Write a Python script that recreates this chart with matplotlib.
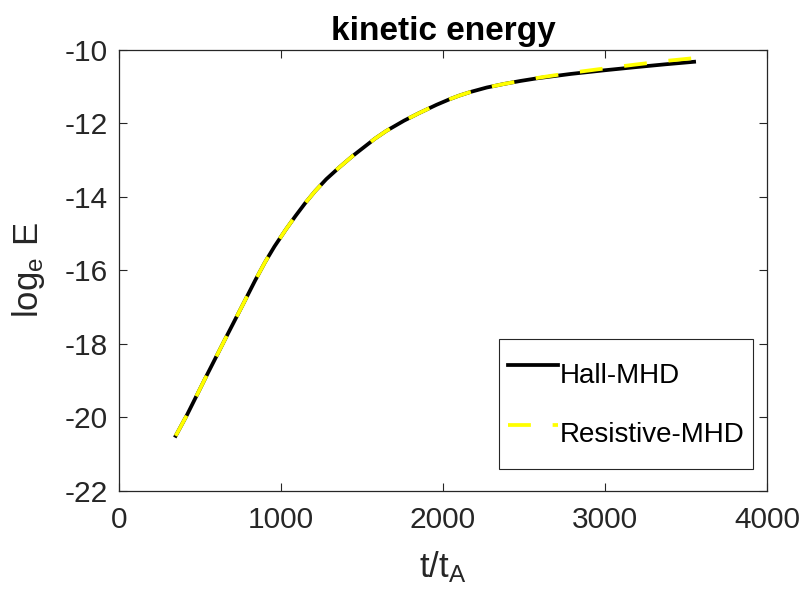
import matplotlib
matplotlib.use("Agg")
import matplotlib.pyplot as plt

# Data
t = [350, 420, 540, 660, 780, 840, 900, 960, 1030, 1090, 1150, 1210, 1280,
     1360, 1440, 1580, 1650, 1760, 1850, 1960, 2040, 2100, 2170, 2270, 2380,
     2480, 2580, 2790, 3000, 3180, 3370, 3550]
hall = [-20.5, -19.93, -18.87, -17.83, -16.8, -16.28, -15.79, -15.35, -14.89,
        -14.52, -14.17, -13.85, -13.52, -13.2, -12.9, -12.42, -12.21, -11.93,
        -11.73, -11.5, -11.35, -11.25, -11.15, -11.03, -10.93, -10.85, -10.78,
        -10.66, -10.56, -10.48, -10.4, -10.33]
resistive = [-20.5, -19.93, -18.87, -17.83, -16.8, -16.28, -15.79, -15.35,
             -14.89, -14.52, -14.17, -13.85, -13.52, -13.2, -12.9, -12.42,
             -12.21, -11.93, -11.73, -11.5, -11.35, -11.25, -11.15, -11.03,
             -10.93, -10.85, -10.77, -10.63, -10.51, -10.41, -10.31, -10.23]
xticks = [0, 1000, 2000, 3000, 4000]
yticks = [-22, -20, -18, -16, -14, -12, -10]

plt.rcParams['font.family'] = ['Liberation Sans', 'DejaVu Sans']
plt.rcParams['mathtext.fontset'] = 'custom'
plt.rcParams['mathtext.rm'] = 'Liberation Sans'
plt.rcParams['axes.unicode_minus'] = False

gray = '#262626'
fig = plt.figure(figsize=(8.05, 5.98), dpi=100)
ax = fig.add_axes([0.1478, 0.1789, 0.8050, 0.7381])

ax.plot(t, hall, color='black', linewidth=2.7, label='Hall-MHD')
ax.plot(t, resistive, color='#ffff00', linewidth=2.7, linestyle=(0, (6.1, 5.8)),
        label='Resistive-MHD')

ax.set_xlim(0, 4000)
ax.set_ylim(-22, -10)
ax.set_xticks(xticks)
ax.set_yticks(yticks)
ax.tick_params(direction='in', length=6, width=0.8, colors=gray,
               labelsize=21.5, top=True, right=True)
ax.tick_params(axis='x', pad=11)
ax.tick_params(axis='y', pad=8)
for s in ax.spines.values():
    s.set_color(gray)
    s.set_linewidth(0.9)

ax.set_title('kinetic energy', fontsize=24, fontweight='bold', pad=7)
ax.set_xlabel(r'$\mathregular{t/t_A}$', fontsize=25, color=gray, labelpad=11)
ax.set_ylabel(r'$\mathregular{log_e\ E}$', fontsize=25, color=gray, labelpad=13)

leg = ax.legend(loc='lower right', bbox_to_anchor=(0.978, 0.05),
                bbox_transform=ax.transAxes, borderaxespad=0,
                fontsize=20, handlelength=1.8, handleheight=2.6,
                handletextpad=0.07, labelspacing=0.2, borderpad=0.3,
                fancybox=False, framealpha=1, edgecolor=gray)
leg.get_frame().set_linewidth(0.8)

fig.savefig('out.png', dpi=100)
